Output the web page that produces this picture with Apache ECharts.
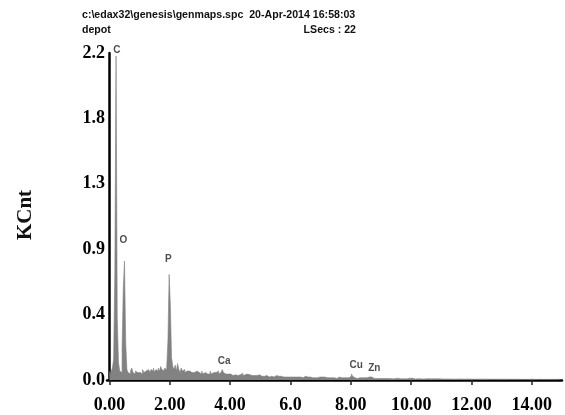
<!DOCTYPE html>
<html><head><meta charset="utf-8">
<script src="https://cdn.jsdelivr.net/npm/echarts@6/dist/echarts.min.js"></script>
<style>html,body{margin:0;padding:0;background:#fff}#c{width:565px;height:415px}</style>
</head><body><div id="c"></div>
<script>
// Header texts
const headerLine1 = 'c:\\edax32\\genesis\\genmaps.spc  20-Apr-2014 16:58:03';
const headerLeft2 = 'depot';
const headerRight2 = 'LSecs : 22';
const yTitle = 'KCnt';

// Axis ticks
const xTickValues = [0, 2, 4, 6, 8, 10, 12, 14];
const xTickLabels = ['0.00', '2.00', '4.00', '6.0', '8.00', '10.00', '12.00', '14.00'];
const yTickLabels = ['0.0', '0.4', '0.9', '1.3', '1.8', '2.2'];

// Spectrum: channel width (keV) and counts (KCnt), one row per keV
const binWidth = 0.04;
const counts = [
  0.06, 0.03, 0.06, 0.08, 0.14, 0.73, 2.18, 0.42, 0.12, 0.06, 0.05, 0.22, 0.62, 0.80, 0.25, 0.07, 0.05, 0.04, 0.06, 0.08, 0.05, 0.04, 0.06, 0.05, 0.06,
  0.05, 0.06, 0.04, 0.07, 0.05, 0.06, 0.05, 0.07, 0.06, 0.05, 0.07, 0.06, 0.08, 0.05, 0.07, 0.06, 0.08, 0.06, 0.09, 0.07, 0.06, 0.08, 0.07, 0.09, 0.27,
  0.71, 0.50, 0.15, 0.09, 0.07, 0.10, 0.06, 0.11, 0.07, 0.05, 0.08, 0.06, 0.07, 0.05, 0.06, 0.05, 0.06, 0.07, 0.05, 0.06, 0.05, 0.04, 0.06, 0.05, 0.05,
  0.05, 0.04, 0.06, 0.04, 0.05, 0.06, 0.04, 0.05, 0.04, 0.06, 0.04, 0.05, 0.04, 0.05, 0.04, 0.06, 0.04, 0.05, 0.06, 0.07, 0.05, 0.04, 0.05, 0.04, 0.05,
  0.04, 0.045, 0.03, 0.04, 0.035, 0.045, 0.03, 0.04, 0.035, 0.03, 0.045, 0.03, 0.035, 0.03, 0.04, 0.03, 0.035, 0.03, 0.03, 0.04, 0.03, 0.04, 0.03, 0.03, 0.035,
  0.03, 0.025, 0.035, 0.025, 0.03, 0.03, 0.025, 0.02, 0.03, 0.025, 0.03, 0.02, 0.025, 0.03, 0.02, 0.025, 0.02, 0.025, 0.03, 0.02, 0.025, 0.02, 0.025, 0.02, 0.025,
  0.02, 0.025, 0.02, 0.015, 0.02, 0.025, 0.02, 0.015, 0.02, 0.02, 0.015, 0.02, 0.025, 0.015, 0.02, 0.015, 0.02, 0.02, 0.015, 0.02, 0.015, 0.02, 0.015, 0.02, 0.02,
  0.015, 0.02, 0.015, 0.02, 0.015, 0.015, 0.02, 0.015, 0.01, 0.015, 0.02, 0.015, 0.015, 0.01, 0.015, 0.02, 0.015, 0.015, 0.01, 0.015, 0.02, 0.015, 0.02, 0.015, 0.02,
  0.025, 0.04, 0.025, 0.015, 0.015, 0.01, 0.015, 0.015, 0.01, 0.015, 0.01, 0.015, 0.01, 0.015, 0.015, 0.02, 0.03, 0.02, 0.015, 0.01, 0.015, 0.01, 0.015, 0.01, 0.01,
  0.01, 0.012, 0.008, 0.01, 0.012, 0.01, 0.008, 0.01, 0.012, 0.008, 0.01, 0.008, 0.01, 0.012, 0.008, 0.01, 0.008, 0.01, 0.008, 0.01, 0.008, 0.01, 0.008, 0.01, 0.012,
  0.008, 0.012, 0.008, 0.007, 0.009, 0.008, 0.007, 0.008, 0.009, 0.007, 0.008, 0.007, 0.008, 0.009, 0.007, 0.008, 0.007, 0.008, 0.007, 0.008, 0.007, 0.008, 0.007, 0.008, 0.007,
  0.007, 0.006, 0.007, 0.006, 0.007, 0.006, 0.007, 0.006, 0.006, 0.007, 0.006, 0.007, 0.006, 0.006, 0.007, 0.006, 0.007, 0.006, 0.006, 0.007, 0.006, 0.006, 0.007, 0.006, 0.006,
  0.006, 0.005, 0.006, 0.005, 0.006, 0.006, 0.005, 0.006, 0.005, 0.006, 0.005, 0.006, 0.005, 0.006, 0.005, 0.005, 0.006, 0.005, 0.006, 0.005, 0.005, 0.006, 0.005, 0.005, 0.006,
  0.005, 0.005, 0.006, 0.005, 0.005, 0.004, 0.005, 0.005, 0.004, 0.005, 0.005, 0.004, 0.005, 0.004, 0.005, 0.005, 0.004, 0.005, 0.004, 0.005, 0.004, 0.005, 0.004, 0.004, 0.005,
  0.004, 0.005, 0.004, 0.004, 0.005, 0.004, 0.004, 0.005, 0.004, 0.004, 0.005, 0.004, 0.004, 0.004, 0.005, 0.004, 0.004, 0.005, 0.004, 0.004, 0.004, 0.005, 0.004, 0.004, 0.004
];

// Element peak labels: name, energy (keV), label height (KCnt)
const elemNames = ['C', 'O', 'P', 'Ca', 'Cu', 'Zn'];
const elemEnergy = [0.25, 0.46, 1.95, 3.80, 8.18, 8.78];
const elemLabelY = [2.22, 0.94, 0.81, 0.128, 0.096, 0.079];

const spectrum = counts.map((v, i) => [i * binWidth, v]);
const elemData = elemNames.map((n, i) => ({ name: n, value: [elemEnergy[i], elemLabelY[i]] }));

const chart = echarts.init(document.getElementById('c'), null, { renderer: 'canvas' });
const hdrFont = 'bold 10.6px "Liberation Sans", Arial, sans-serif';
chart.setOption({
  animation: false,
  backgroundColor: '#ffffff',
  grid: { left: 107, right: 3, top: 53, bottom: 35, containLabel: false },
  graphic: [
    { type: 'text', left: 82, top: 10, style: { text: headerLine1, font: hdrFont, fill: '#111' } },
    { type: 'text', left: 82, top: 25, style: { text: headerLeft2, font: hdrFont, fill: '#111' } },
    { type: 'text', right: 209, top: 25, style: { text: headerRight2, font: hdrFont, fill: '#111' } },
    { type: 'text', x: 26, y: 215, rotation: Math.PI / 2,
      style: { text: yTitle, font: 'bold 21px "Liberation Serif", "Times New Roman", serif', fill: '#111', align: 'center', verticalAlign: 'middle' } }
  ],
  xAxis: {
    type: 'value', min: -0.08, max: 15,
    splitLine: { show: false },
    axisLine: { show: true, onZero: false, lineStyle: { color: '#000', width: 2.5 } },
    axisTick: { show: true, length: 5, customValues: xTickValues, lineStyle: { color: '#222', width: 1.5 } },
    axisLabel: {
      customValues: xTickValues, margin: 16,
      fontFamily: '"Liberation Serif", "Times New Roman", serif', fontWeight: 'bold', fontSize: 18, color: '#000',
      formatter: v => xTickLabels[xTickValues.indexOf(Math.round(v))] || ''
    }
  },
  yAxis: {
    type: 'value', min: 0, max: 2.2, interval: 0.44,
    splitLine: { show: false },
    axisLine: { show: true, lineStyle: { color: '#000', width: 2.5 } },
    axisTick: { show: false },
    axisLabel: {
      margin: 2,
      fontFamily: '"Liberation Serif", "Times New Roman", serif', fontWeight: 'bold', fontSize: 18, color: '#000',
      formatter: v => yTickLabels[Math.round(v / 0.44)]
    }
  },
  series: [
    {
      type: 'line', data: spectrum, step: 'middle', symbol: 'none',
      lineStyle: { color: '#828282', width: 0.6 },
      areaStyle: { color: '#828282', opacity: 1 },
      z: 1
    },
    {
      type: 'scatter', data: elemData, symbolSize: 1, clip: false,
      itemStyle: { color: 'rgba(0,0,0,0)' },
      label: {
        show: true, position: 'inside', formatter: p => p.name,
        fontFamily: '"Liberation Sans", Arial, sans-serif', fontWeight: 'bold', fontSize: 10, color: '#222'
      },
      z: 3
    }
  ]
});
</script></body></html>
